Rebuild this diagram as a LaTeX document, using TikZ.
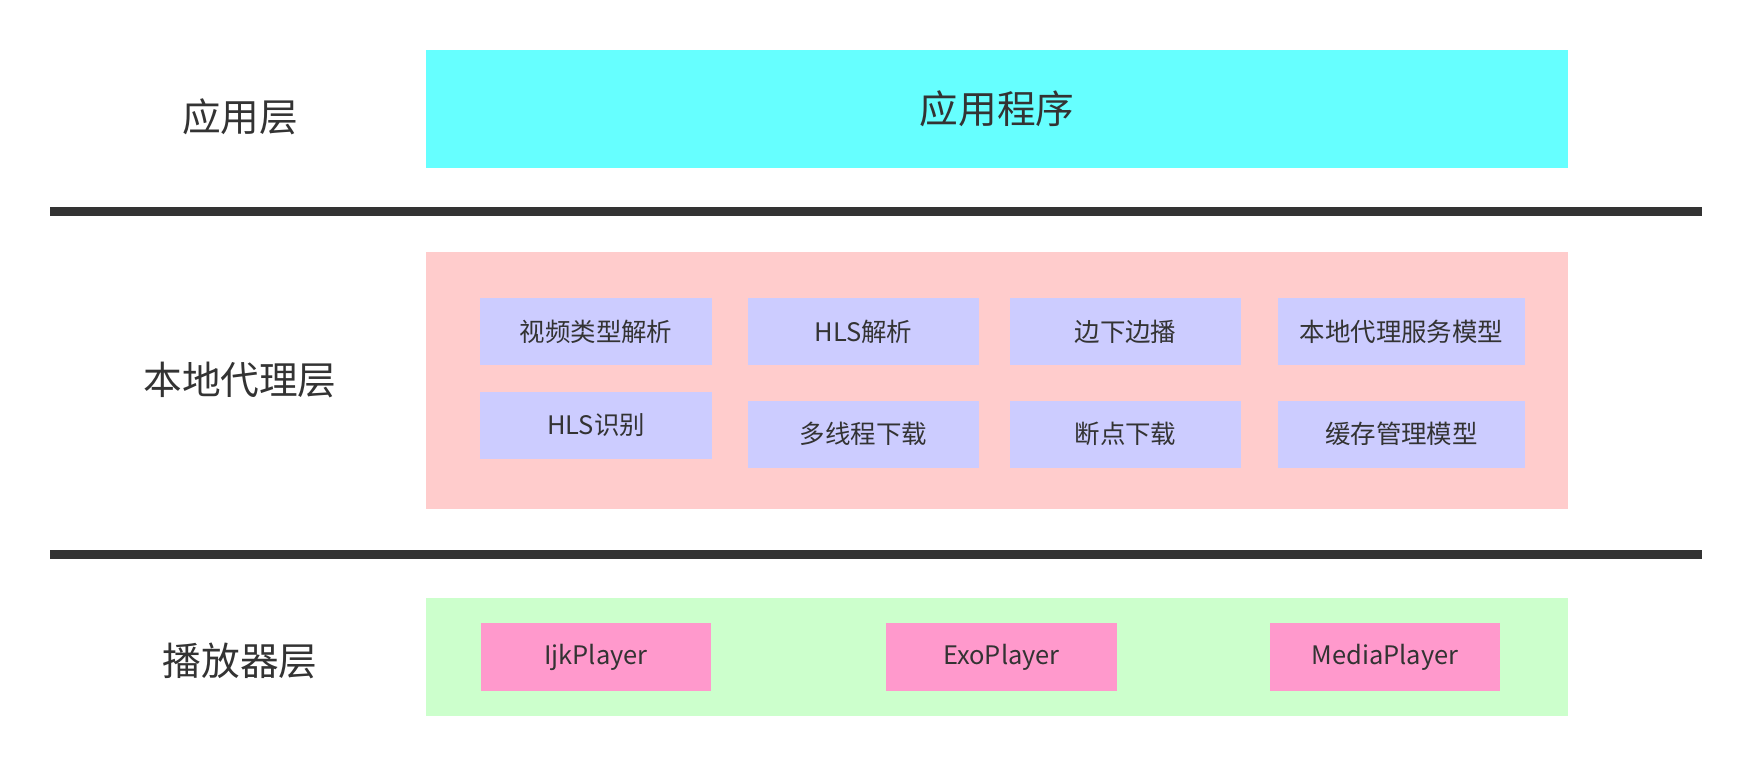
\documentclass[tikz,border=0pt]{standalone}
\usepackage{fontspec}
\setmainfont{Noto Sans CJK SC}
\definecolor{appcyan}{HTML}{66FFFF}
\definecolor{proxypink}{HTML}{FFCCCC}
\definecolor{itemblue}{HTML}{CCCCFF}
\definecolor{playgreen}{HTML}{CCFFCC}
\definecolor{playpink}{HTML}{FF99CC}
\definecolor{bardark}{HTML}{333333}
\begin{document}
\begin{tikzpicture}[x=0.02cm, y=-0.02cm, line join=round,
	layerlabel/.style={text=bardark, font=\fontsize{22}{24}\selectfont},
	layerbox/.style={inner sep=0pt, minimum width=22.84cm},
	itembox/.style={fill=itemblue, inner sep=0pt, minimum width=4.64cm, minimum height=1.34cm, text=bardark, font=\fontsize{14.5}{16}\selectfont},
	playerbox/.style={fill=playpink, inner sep=0pt, minimum width=4.62cm, minimum height=1.36cm, text=bardark, font=\fontsize{14.5}{16}\selectfont}]
	\useasboundingbox (0,0) rectangle (1752,772);
	
	% Các lớp nền
	\node[layerbox, fill=appcyan, minimum height=2.36cm, layerlabel] (app) at (997,109) {应用程序};
	\node[layerbox, fill=proxypink, minimum height=5.14cm] (proxy) at (997,380.5) {};
	\node[layerbox, fill=playgreen, minimum height=2.36cm] (player) at (997,657) {};
	
	% Các thanh ngăn cách
	\fill[bardark] (50,207) rectangle (1702,216);
	\fill[bardark] (50,550) rectangle (1702,559);
	
	% Tên các lớp
	\node[layerlabel] (lapp) at (240,117) {应用层};
	\node[layerlabel] (lproxy) at (240,380) {本地代理层};
	\node[layerlabel] (lplayer) at (240,661) {播放器层};
	
	% Các khối của lớp đại lý
	\node[itembox] (typeparse) at (596,331.5) {视频类型解析};
	\node[itembox] (hlsparse) at (863.5,331.5) {HLS解析};
	\node[itembox] (playdl) at (1125.5,331.5) {边下边播};
	\node[itembox, minimum width=4.94cm] (proxymodel) at (1401.5,331.5) {本地代理服务模型};
	\node[itembox] (hlsdetect) at (596,425.5) {HLS识别};
	\node[itembox] (multidl) at (863.5,434) {多线程下载};
	\node[itembox] (resumedl) at (1125.5,434) {断点下载};
	\node[itembox, minimum width=4.94cm] (cachemodel) at (1401.5,434) {缓存管理模型};
	
	% Các trình phát
	\node[playerbox] (ijk) at (596,657) {IjkPlayer};
	\node[playerbox] (exo) at (1001.5,657) {ExoPlayer};
	\node[playerbox] (media) at (1385,657) {MediaPlayer};
\end{tikzpicture}
\end{document}
